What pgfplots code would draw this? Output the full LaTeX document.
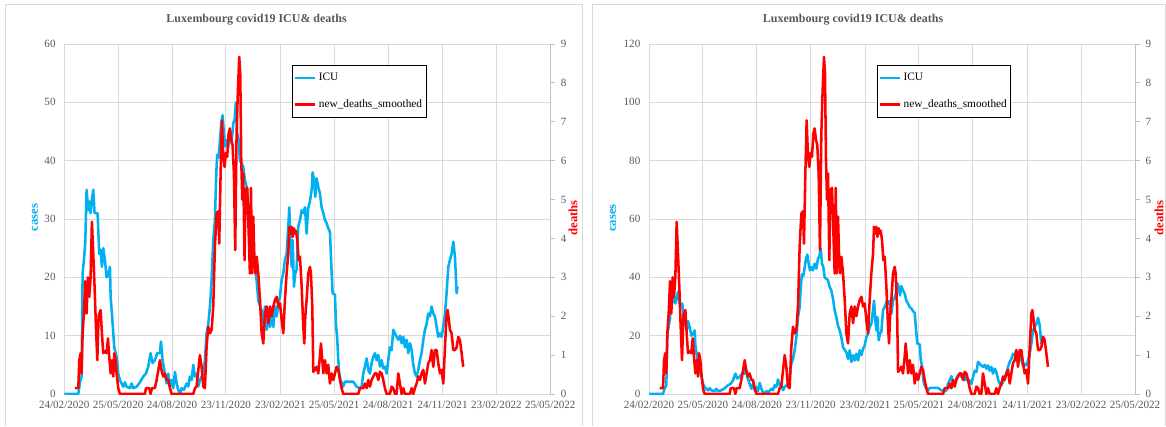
\documentclass[border=0pt]{standalone}
\usepackage{pgfplots}
\pgfplotsset{compat=1.18}
\usepackage{pgfplotstable}
\usepackage{fontspec}
\setmainfont{Liberation Serif}
\definecolor{icublue}{HTML}{00B0F0}
\definecolor{txtgray}{HTML}{595959}
\definecolor{gridgray}{HTML}{D9D9D9}
\definecolor{axgray}{HTML}{BFBFBF}

\pgfplotstableread{
day icu
0 0
23.6 0
26.5 2
29.3 3
31 20.7
33.2 23
35.5 26
37.7 35
40.6 31.5
42.2 33
44.5 31
46.2 33
49 35
51.2 31
53.5 31
56.3 31
59.1 24
61.4 24.7
63.6 21.8
65.9 25
68.7 23
71.5 20
74.3 20.5
77.2 21.8
78.3 16.7
80 14.4
81.7 12
82.8 10.4
84.5 8
86.7 7
88.4 6.4
91.2 3.5
94 2.4
96.9 1.8
99.7 1.25
102.5 2
105.3 1.25
110.9 1
113.7 1.8
116.6 1
122.2 1.25
127.8 2
133.5 3
138 3.5
141.9 4.7
145.8 7
149.2 5.3
153.1 5.8
157.1 7
161.6 7
163.3 9
166.1 5.8
170 3.5
172.9 1.8
175.7 3.5
178.5 1.3
181.3 2.4
184.1 1
187 3.8
189.8 1.8
192.6 0.7
195.4 0
198.2 1
202.1 0.7
206.6 1.8
209.5 1.3
212.3 3
215.1 2.4
217.9 5
220.7 3
223.5 3.5
226.3 1.3
229.2 2.4
234.8 3.5
237.6 5.8
240.4 10.4
243.2 12
246.1 15
248.9 19.5
251.7 26.4
254.5 29.8
256.2 36
257.3 39
258.4 41
260.7 40.5
263 43.5
265.2 46.4
267.4 47.8
269.7 44.7
271.9 42.4
274.2 43.5
277 42.4
279.8 44.7
282.6 43
285.5 46.4
287.7 47
290 50
292.2 44.7
294.5 43.5
296.7 40
299.5 39.5
302.3 39
305.2 36.7
308 35.5
310.8 32.7
313.6 28.7
316.4 26.4
319.2 23.5
322.1 21.8
324.9 19.5
327.8 16
333.4 14.3
336.2 12
339 15
341.9 11
344.7 13.3
347.5 11.5
350.3 13.8
353.1 11.5
356 15
358.8 13.3
361.6 15.5
364.4 16.7
367.2 19.5
370 20.7
372.8 23
375.6 24
378.4 28.7
380.1 32
382.4 25
384.1 21.8
385.8 26.4
388 18.4
390.3 20.7
392.5 21.3
395.3 28.7
398.2 29.8
401 31.5
403.8 31
406.6 32
409.4 27.5
412.2 32
415 33
417.9 35
419.5 38
421.8 36.7
424 33.8
426.3 37
429.1 35.5
431.9 34.4
434.7 32
437.6 31
440.4 29.8
443.2 29.3
446 28.4
448.8 27.8
450.5 23.5
453.3 17.3
457.3 17
459 12
461.2 9.3
462.9 5.8
464.6 3.5
466.8 2.4
471.3 1.3
474.1 2.1
482.6 2.1
488.2 2.1
493.9 1.25
499.5 1
502.3 1.25
505.1 3.5
507.9 4.7
510.8 6.1
513.6 4.1
516.4 3.5
519.2 5.3
522 6.4
524.8 7
527.6 5.8
530.5 6.7
533.3 4.7
536.1 5.8
538.9 4.4
541.7 4.7
544.5 3.5
547.3 5.8
550.2 8
553 7.5
555.8 11
558.6 10.4
561.4 9.8
564.2 9.3
567.1 10
569.9 8.7
572.7 9.8
575.5 8
578.3 9.3
581.1 7
584 8.7
586.8 7.5
589.6 5
592.4 3.5
595.2 3
598 4.1
600.8 5.8
603.6 7
606.5 9.3
609.3 11
612.1 12
614.9 13.8
617.7 13.3
620.5 15
623.4 13.8
626.2 13.3
629 11.5
631.8 9.8
634.6 10.4
637.4 9.8
640.3 11.5
643.1 13.8
645.9 17.3
648.7 21.8
651.5 23
654.3 24
657.2 26.1
660 23.5
662.8 17.3
664.4 18.4
}\icutable

\pgfplotstableread{
day deaths
18 0.15
23.7 0.15
25.4 0.87
27.6 1.05
29.3 0.53
31 1.56
33.2 2.07
35.5 2.9
37.7 2.07
40 3.0
42.2 2.5
44.5 3.0
46.7 4.43
49 3.6
51.2 2.76
53.5 1.73
55.8 0.87
58 2.0
61.4 2.16
63.6 1.56
65.9 1.05
68.7 1.1
71.5 1.05
73.8 1.43
76 0.96
78.3 0.53
80.5 0.87
82.8 0.45
84.5 1.05
86.7 0.87
88.4 0.53
91.2 0.15
94 0
136.3 0
138 0.15
143.6 0.15
145.8 0
148.1 0.15
153.1 0.15
156 0.36
158.8 0.6
161.6 0.87
164.4 0.6
167.2 0.45
170 0.53
172.9 0.36
175.7 0.36
178.5 0.15
181.3 0
217.9 0
220.7 0.15
223.5 0.19
226.3 0.6
229.2 1.0
232 0.7
234.8 0.19
237.6 0.15
240.4 1.2
243.2 1.73
246.1 1.56
248.9 1.65
251.7 2.25
254.5 3.8
257.3 4.64
260.1 4.7
261.8 3.87
264.1 5.67
266.3 7.04
268.6 6.1
270.8 5.84
273.1 6.2
275.3 6.1
277.6 6.7
279.8 6.83
282.1 6.53
284.3 6.4
286.6 5.67
288.8 3.7
291.1 6.7
293.3 7.8
295.6 8.67
297.3 8.24
299 6.0
300.7 5.0
302.4 5.67
304.6 3.44
306.3 5.24
309.1 5.3
311.4 4.2
313.6 3.1
315.4 5.3
317.1 3.1
319.3 4.56
321 3.6
322.7 3.1
325 3.53
327.8 3.1
330.6 2.42
333.4 1.56
336.2 1.3
339 2.07
341.9 2.25
344.7 1.82
347.5 2.25
350.3 2.0
353.1 2.25
356 2.42
358.8 2.5
361.6 2.25
364.4 2.33
367.2 1.9
370 1.56
372.8 2.42
375.6 3.1
378.4 3.6
380.1 4.3
382.4 4.13
384.1 4.3
385.8 4.04
388 4.26
389.7 4.13
391.4 4.2
393.6 3.96
395.9 3.44
398.2 3.53
401 2.76
403.8 1.73
405.5 1.3
407.2 2.0
409.4 2.42
412.2 3.1
415 3.27
416.7 3.1
419 2.25
420.7 0.57
423.5 0.62
426.3 0.7
429.1 0.53
431.9 0.96
433.6 1.3
435.9 0.87
437.6 0.53
440.4 0.87
443.2 0.53
446 0.75
448.8 0.27
451.6 0.53
454.5 0.36
457.3 0.53
460.1 0.7
462.9 0.62
465.7 0.36
468.5 0.15
471.3 0
496.7 0
499.5 0.15
505.1 0.15
507.9 0.27
510.8 0.15
513.6 0.36
516.4 0.19
519.2 0.36
522 0.45
524.8 0.53
527.6 0.53
530.5 0.36
533.3 0.57
536.1 0.53
538.9 0.36
541.7 0.15
544.5 0
550.2 0
553 0.19
555.8 0.15
558.6 0
561.4 0
564.2 0.53
567.1 0.27
569.9 0
572.7 0.15
575.5 0
584 0
586.8 0.15
589.6 0
592.4 0.15
595.2 0.27
598 0.45
600.8 0.36
603.6 0.53
606.5 0.62
609.3 0.27
612.1 0.53
614.9 0.79
617.7 0.87
620.5 1.13
623.4 0.7
626.2 1.13
629 1.13
631.8 0.79
634.6 0.53
637.4 0.62
640.3 0.27
643.1 1.2
645.9 2.07
647.6 2.16
649.8 1.9
651.5 1.65
654.3 1.56
657.2 1.13
660 1.13
662.8 1.2
665.6 1.47
668.4 1.39
671.2 1.05
674 0.7
}\deathtable

\pgfplotsset{
  chartbase/.style={
    scale only axis, width=364.5pt, height=262.5pt,
    xmin=0, xmax=821, anchor=south west,
    ymin=0,
    /pgf/number format/assume math mode=true,
    tick label style={font=\fontsize{8.3}{9}\selectfont, text=txtgray},
  },
  icuaxis/.style={
    chartbase,
    xtick={0,91,182,273,365,456,547,639,730,821},
    xticklabels={24/02/2020,25/05/2020,24/08/2020,23/11/2020,23/02/2021,25/05/2021,24/08/2021,24/11/2021,23/02/2022,25/05/2022},
    grid=major, grid style={gridgray, line width=0.75pt},
    axis line style={draw=none},
    major tick length=0pt,
    xticklabel style={yshift=-1.5pt},
    yticklabel style={xshift=-3pt},
  },
  deathaxis/.style={
    chartbase, ymax=9,
    axis x line=none, axis y line*=right,
    ytick={0,1,...,9},
    y axis line style={axgray, line width=0.75pt},
    ytick style={axgray, line width=0.75pt},
    tick align=outside, major tick length=3.5pt,
    yticklabel style={xshift=1pt},
    legend style={at={(0.4685,0.94)}, anchor=north west, draw=black, line width=0.6pt,
      fill=white, font=\fontsize{8.5}{9}\selectfont, row sep=8.5pt,
      inner xsep=1pt, inner ysep=4pt, cells={anchor=west}},
    legend image code/.code={\draw[#1] (0pt,0pt) -- (15pt,0pt);},
  },
}

\begin{document}
\begin{tikzpicture}
\useasboundingbox (0,0) rectangle (874.5pt,319.5pt);
\fill[white] (0,0) rectangle (874.5pt,319.5pt);
% chart frames
\draw[gridgray, line width=0.75pt] (4.1pt,0pt) -- (4.1pt,315.75pt) -- (436.5pt,315.75pt) -- (436.5pt,0pt);
\draw[gridgray, line width=0.75pt] (444pt,0pt) -- (444pt,315.75pt) -- (874.2pt,315.75pt) -- (874.2pt,0pt);

% ===== left chart =====
\begin{axis}[icuaxis, at={(48.2pt,24pt)}, ymax=60, ytick={0,10,...,60}]
\addplot[icublue, line width=1.9pt, line join=round] table[x=day,y=icu] {\icutable};
\end{axis}
\begin{axis}[deathaxis, at={(48.2pt,24pt)}]
\addlegendimage{icublue, line width=1.9pt}
\addlegendentry{ICU}
\addplot[red, line width=1.9pt, line join=round] table[x=day,y=deaths] {\deathtable};
\addlegendentry{new\_deaths\_smoothed}
\end{axis}
\node[font=\bfseries\fontsize{9}{10}\selectfont, text=txtgray] at (192.5pt,304.9pt) {Luxembourg covid19 ICU\& deaths};
\node[rotate=90, font=\bfseries\fontsize{9.5}{10}\selectfont, text=icublue] at (26.25pt,156.5pt) {cases};
\node[rotate=90, font=\bfseries\fontsize{9.5}{10}\selectfont, text=red] at (429.75pt,156pt) {deaths};

% ===== right chart =====
\begin{axis}[icuaxis, at={(486.75pt,24pt)}, ymax=120, ytick={0,20,...,120}]
\addplot[icublue, line width=1.9pt, line join=round] table[x=day,y=icu] {\icutable};
\end{axis}
\begin{axis}[deathaxis, at={(486.75pt,24pt)}]
\addlegendimage{icublue, line width=1.9pt}
\addlegendentry{ICU}
\addplot[red, line width=1.9pt, line join=round] table[x=day,y=deaths] {\deathtable};
\addlegendentry{new\_deaths\_smoothed}
\end{axis}
\node[font=\bfseries\fontsize{9}{10}\selectfont, text=txtgray] at (639.75pt,304.9pt) {Luxembourg covid19 ICU\& deaths};
\node[rotate=90, font=\bfseries\fontsize{9.5}{10}\selectfont, text=icublue] at (459.75pt,156pt) {cases};
\node[rotate=90, font=\bfseries\fontsize{9.5}{10}\selectfont, text=red] at (869.3pt,156pt) {deaths};
\end{tikzpicture}
\end{document}
